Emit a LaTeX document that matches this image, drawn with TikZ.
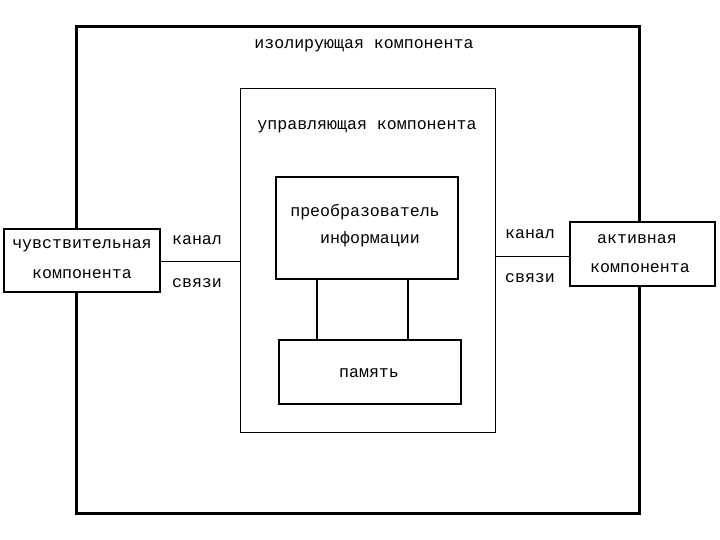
\documentclass[tikz,border=0pt]{standalone}
\usepackage{fontspec}
\setmonofont{Liberation Mono}
\begin{document}
\begin{tikzpicture}[x=1pt,y=-1pt,
  lbl/.style={font=\ttfamily\fontsize{16.6}{18}\selectfont, inner sep=0pt, anchor=center},
  thickbox/.style={draw, line width=3pt},
  thinbox/.style={draw, line width=1pt},
  medbox/.style={draw, line width=2pt},
  link/.style={line width=1pt},
  vlink/.style={line width=2pt}]
\useasboundingbox (0,0) rectangle (720,540);
\draw[thickbox] (76,27) rectangle (639,513);
\node[lbl] (iso) at (364,46) {изолирующая компонента};
\draw[thinbox] (240,89) rectangle (495,432);
\node[lbl] (upr) at (367,127) {управляющая компонента};
\node[medbox, minimum width=182pt, minimum height=102pt, inner sep=0pt] (conv) at (367,228) {};
\node[lbl] at (365,212) {преобразователь};
\node[lbl] at (370,239) {информации};
\node[medbox, minimum width=182pt, minimum height=64pt, inner sep=0pt] (mem) at (370,372) {};
\node[lbl] at (369,373) {память};
\draw[vlink] (317,279) -- (317,340);
\draw[vlink] (408,279) -- (408,340);
\node[draw, line width=1.5pt, fill=white, minimum width=156pt, minimum height=63pt, inner sep=0pt] (sens) at (82,260.5) {};
\node[lbl] at (82,246) {чувствительная};
\node[lbl] at (82,274) {компонента};
\node[draw, line width=1.5pt, fill=white, minimum width=145pt, minimum height=64pt, inner sep=0pt] (act) at (642.5,254) {};
\node[lbl] at (637,239) {активная};
\node[lbl] at (640,268) {компонента};
\coordinate (inL) at (240,261);
\coordinate (inR) at (495,256);
\draw[link] (sens.east |- inL) -- (inL);
\draw[link] (inR) -- (act.west |- inR);
\node[lbl] at (197,240) {канал};
\node[lbl] at (197,283) {связи};
\node[lbl] at (530,234) {канал};
\node[lbl] at (530,278) {связи};
\end{tikzpicture}
\end{document}
